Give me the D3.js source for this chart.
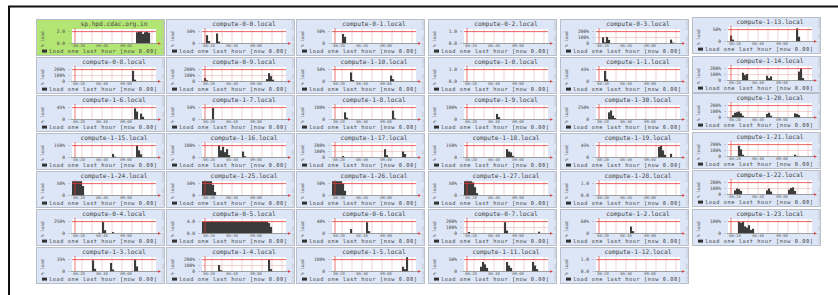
<!DOCTYPE html>
<html>
<head>
<meta charset="utf-8">
<script src="https://cdn.jsdelivr.net/npm/d3@7"></script>
<style>
  html, body { margin: 0; padding: 0; background: #fff; }
  svg { display: block; }
  text { font-family: "DejaVu Sans Mono", monospace; }
</style>
</head>
<body>
<svg id="grid" width="838" height="295"></svg>
<script>
// cluster overview: one tiny load chart per host
const HOSTS = [
  "sp.hpd.cdac.org.in", "compute-0-0.local", "compute-0-1.local", "compute-0-2.local", "compute-0-3.local", "compute-1-13.local",
  "compute-0-8.local", "compute-0-9.local", "compute-1-10.local", "compute-1-0.local", "compute-1-1.local", "compute-1-14.local",
  "compute-1-6.local", "compute-1-7.local", "compute-1-8.local", "compute-1-9.local", "compute-1-30.local", "compute-1-20.local",
  "compute-1-15.local", "compute-1-16.local", "compute-1-17.local", "compute-1-18.local", "compute-1-19.local", "compute-1-21.local",
  "compute-1-24.local", "compute-1-25.local", "compute-1-26.local", "compute-1-27.local", "compute-1-28.local", "compute-1-22.local",
  "compute-0-4.local", "compute-0-5.local", "compute-0-6.local", "compute-0-7.local", "compute-1-2.local", "compute-1-23.local",
  "compute-1-3.local", "compute-1-4.local", "compute-1-5.local", "compute-1-11.local", "compute-1-12.local",
];

const Y_TICKS = [
  [0, 2], [0, 50], [0, 50], [0, 1], [0, 100, 200], [0, 50],
  [0, 100, 200], [0, 100, 200], [0, 50], [0, 1], [0, 45], [0, 100, 200],
  [0, 45], [0, 50], [0, 100], [0, 100], [0, 250], [0, 100, 200],
  [0, 150], [0, 100], [0, 100, 200], [0, 150], [0, 45], [0, 100, 200],
  [0, 50], [0, 50], [0, 50], [0, 50], [0, 1], [0, 100, 200],
  [0, 250], [0, 4], [0, 40], [0, 100, 200], [0, 60], [0, 100],
  [0, 35], [0, 100, 200], [0, 100], [0, 50], [0, 1],
];

const Y_UNITS = [
  "", "%", "%", "", "%", "%",
  "%", "%", "%", "", "%", "%",
  "%", "%", "%", "%", "%", "%",
  "%", "%", "%", "%", "%", "%",
  "%", "%", "%", "%", "", "%",
  "%", "", "%", "%", "%", "%",
  "%", "%", "%", "%", "",
];

const X_LABELS = ["08:20", "08:40", "09:00"];
const X_LABEL_AT = [3.5, 15, 27];
const LEGEND = "load one last hour [now 0.00]";

// one sample every ~1.5 min over the last hour
const LOADS = [
  [0,0,0,0,0,0,0,0,0,0, 0,0,0,0,0,0,0,0,0,0, 0,0,0,0,0,0,0,0,0,0, 0,0,1.9,2,2,1.6,1.9,2,1.8,0, 0,0],
  [0,0,35,10,0,0,0,42,8,0, 0,0,0,0,0,0,0,0,0,0, 0,0,0,0,0,0,0,0,0,0, 0,0,0,0,0,0,0,0,0,0, 0,0],
  [0,0,0,0,0,40,28,0,0,0, 0,0,0,0,0,0,0,0,0,0, 0,0,0,0,0,0,0,0,0,0, 0,0,0,0,0,0,0,0,0,0, 0,0],
  [0,0,0,0,0,0,0,0,0,0, 0,0,0,0,0,0,0,0,0,0, 0,0,0,0,0,0,0,0,0,0, 0,0,0,0,0,0,0,0,0,0, 0,0],
  [0,0,0,105,20,110,60,0,0,0, 0,0,0,0,0,0,0,0,0,0, 0,0,0,0,0,0,0,0,0,0, 0,0,0,0,0,0,0,65,15,0, 0,0],
  [0,25,8,0,0,0,0,0,0,0, 0,0,0,0,0,0,0,0,0,0, 0,0,0,0,0,0,0,0,0,0, 0,0,0,0,55,20,0,0,0,0, 0,0],

  [0,0,0,0,0,0,0,0,0,0, 0,0,0,0,0,0,0,0,0,0, 0,0,0,0,0,0,0,0,0,0, 180,30,0,0,0,0,0,0,0,0, 0,0],
  [0,60,20,0,0,0,0,0,0,0, 0,0,0,0,0,0,0,0,0,0, 0,0,0,0,0,0,0,0,0,0, 0,0,40,140,90,30,0,0,0,0, 0,0],
  [0,0,0,0,0,0,0,0,0,38, 6,0,0,0,0,0,0,0,0,0, 0,0,0,0,0,0,0,0,0,25, 10,0,0,0,0,0,0,0,0,0, 0,0],
  [0,0,0,0,0,0,0,0,0,0, 0,0,0,0,0,0,0,0,0,0, 0,0,0,0,0,0,0,0,0,0, 0,0,0,0,0,0,0,0,0,0, 0,0],
  [0,0,0,0,40,8,0,0,0,0, 0,0,0,0,0,0,0,0,0,0, 0,0,0,0,0,0,0,0,0,0, 0,0,0,0,0,0,0,0,0,0, 0,0],
  [0,0,0,0,0,0,0,130,90,110, 0,0,0,0,0,0,0,0,0,80, 40,70,0,0,0,0,0,0,0,0, 0,0,0,0,0,150,200,40,0,0, 0,0],

  [0,0,0,0,0,0,0,0,0,0, 0,0,0,0,0,0,0,0,0,0, 0,0,0,0,0,0,0,0,0,0, 0,42,30,0,22,10,0,0,0,0, 0,0],
  [0,0,0,0,0,48,0,0,0,0, 0,0,0,0,0,0,0,0,0,0, 0,0,0,0,0,0,0,0,0,0, 0,0,0,0,0,0,0,0,0,0, 0,0],
  [0,0,0,0,0,0,60,15,0,0, 0,0,0,0,0,0,0,0,0,0, 0,0,0,0,0,0,0,0,0,0, 75,10,0,0,0,0,0,0,0,0, 0,0],
  [0,0,0,0,0,0,0,0,0,0, 0,0,0,0,0,0,47,20,0,0, 0,0,0,0,0,0,0,0,0,0, 0,0,0,0,0,0,0,0,0,0, 0,0],
  [0,0,0,0,0,0,150,190,80,30, 0,0,0,0,0,0,0,0,0,0, 0,0,0,0,12,0,0,0,0,0, 0,0,0,0,0,0,0,0,0,0, 0,0],
  [0,0,40,80,90,100,70,30,0,0, 0,0,0,0,0,0,0,0,0,60, 80,30,0,0,0,0,0,0,0,0, 0,0,0,70,60,40,0,0,0,0, 0,0],

  [0,0,0,0,0,0,0,0,0,0, 0,0,0,0,0,0,0,0,0,0, 45,10,0,0,0,0,0,0,0,0, 0,0,150,90,40,0,0,0,0,0, 0,0],
  [0,0,0,0,0,0,0,0,100,60, 90,45,70,20,0,0,0,0,0,0, 50,10,0,0,0,0,0,0,0,0, 0,0,0,0,0,0,0,0,0,0, 0,0],
  [0,0,0,0,0,25,0,0,0,0, 0,0,0,0,0,0,0,0,0,0, 0,0,0,0,0,0,140,40,0,0, 0,0,0,0,0,100,60,0,0,0, 0,0],
  [0,0,0,0,0,0,0,0,0,0, 0,0,0,0,0,0,0,0,0,0, 0,105,75,65,20,0,0,0,0,0, 0,0,0,0,0,0,0,0,0,0, 0,0],
  [0,0,0,0,0,0,0,0,0,0, 0,0,0,0,0,0,0,0,0,0, 0,0,0,0,0,0,0,0,0,0, 0,40,45,27,10,0,0,14,0,0, 0,0],
  [0,0,0,0,0,180,120,30,0,0, 0,0,0,0,0,0,0,0,0,0, 0,0,0,0,0,0,0,0,0,0, 0,0,0,30,10,0,0,0,0,0, 0,0],

  [60,60,60,60,60,40,0,0,0,0, 0,0,0,0,0,0,0,0,0,0, 0,0,0,0,0,0,0,0,0,0, 0,0,0,0,0,0,0,0,0,0, 0,0],
  [60,60,60,60,60,45,15,0,0,0, 0,0,0,0,0,0,0,0,0,0, 0,0,0,0,0,0,0,0,0,0, 0,0,0,0,0,0,0,0,0,0, 0,0],
  [60,60,60,60,60,50,20,0,0,0, 0,0,0,0,0,0,0,0,0,0, 0,0,0,0,0,0,0,0,0,0, 0,0,0,0,0,0,0,0,0,0, 0,0],
  [60,60,60,60,55,35,10,0,0,0, 0,0,0,0,0,0,0,0,0,0, 0,0,0,0,0,0,0,0,0,0, 0,0,0,0,0,0,0,0,0,0, 0,0],
  [0,0,0,0,0,0,0,0,0,0, 0,0,0,0,0,0,0,0,0,0, 0,0,0,0,0,0,0,0,0,0, 0,0,0,0,0,0,0,0,0,0, 0,0],
  [0,0,0,70,100,90,60,0,0,0, 0,0,0,0,0,0,0,0,0,70, 100,50,0,0,0,0,0,0,0,0, 80,110,120,60,0,0,0,0,0,0, 0,0],

  [0,0,0,0,0,0,0,0,0,0, 0,0,0,15,0,240,70,0,0,0, 30,0,0,0,0,0,0,0,0,0, 0,0,0,0,0,0,0,0,0,0, 0,0],
  [4,4,4,4,4,4,4,4,4,4, 4,4,4,4,4,4,4,4,4,4, 4,4,4,4,4,4,4,4,4,4, 4,4,4,3.5,2.2,0,0,0,0,0, 0,0],
  [0,0,0,0,0,0,0,0,0,15, 0,0,0,0,0,0,0,38,8,0, 0,0,0,0,0,0,0,0,0,0, 0,0,0,0,0,0,0,0,0,0, 0,0],
  [0,0,25,0,0,0,0,0,0,0, 0,0,0,0,0,0,0,0,0,0, 190,50,0,0,0,0,0,0,0,0, 0,0,0,0,0,0,0,30,0,0, 0,0],
  [0,0,0,0,0,0,0,0,0,0, 0,0,0,0,0,0,0,35,12,0, 0,0,0,0,0,0,0,0,0,0, 0,0,0,0,0,0,0,0,0,0, 0,0],
  [0,0,0,0,0,100,90,100,60,50, 70,30,40,0,0,0,0,0,0,0, 0,0,0,0,0,0,0,0,0,0, 0,0,0,0,0,0,0,0,0,0, 0,0],

  [0,0,0,0,0,0,0,0,0,0, 33,8,0,0,0,0,0,0,0,25, 6,0,0,0,0,0,0,0,0,0, 0,35,15,0,0,0,0,0,0,0, 0,0],
  [0,0,0,0,0,0,0,0,110,20, 0,0,0,0,0,0,0,0,0,0, 0,0,0,0,0,0,0,0,0,0, 0,0,0,200,40,0,0,0,0,0, 0,0],
  [0,0,0,0,0,0,0,0,0,0, 0,0,0,0,0,0,0,0,0,0, 0,0,0,0,0,0,0,0,0,0, 0,0,0,0,0,40,20,120,0,0, 0,0],
  [0,0,0,0,0,0,0,0,20,40, 30,15,0,0,0,0,0,0,0,0, 0,40,25,15,0,0,0,0,0,0, 0,0,0,0,40,25,10,0,0,0, 0,0],
  [0,0,0,0,0,0,0,0,0,0, 0,0,0,0,0,0,0,0,0,0, 0,0,0,0,0,0,0,0,0,0, 0,0,0,0,0,0,0,0,0,0, 0,0],
];

const COL_X = [36, 166, 296, 428, 560, 692];
const ROW_Y = [19, 57, 95, 133, 171, 209, 247];
const LAST_COL_Y = [17, 56, 93, 132, 170, 209];
const PANEL_W = 128;
const PANEL_H = 36;
const PLOT = { left: 36, right: 120, top: 10, bottom: 24.5 };

const svg = d3.select("#grid");

drawFrame();
HOSTS.forEach((host, i) => drawPanel(host, i));

function drawFrame() {
  svg.append("line").attr("x1", 8).attr("x2", 838).attr("y1", 6.5).attr("y2", 6.5)
    .attr("stroke", "#111").attr("stroke-width", 2);
  svg.append("line").attr("x1", 9).attr("x2", 9).attr("y1", 6).attr("y2", 295)
    .attr("stroke", "#111").attr("stroke-width", 2);
}

function fmtTick(v, unit) {
  if (unit === "%") return v === 0 ? "0" : `${v}%`;
  return v.toFixed(1);
}

function drawPanel(host, i) {
  const row = Math.floor(i / 6);
  const col = i % 6;
  const px = COL_X[col];
  const py = col === 5 ? LAST_COL_Y[row] : ROW_Y[row];
  const ticks = Y_TICKS[i];
  const topTick = ticks[ticks.length - 1];
  const data = LOADS[i];

  const x = d3.scaleLinear().domain([0, data.length]).range([PLOT.left, PLOT.right]);
  const y = d3.scaleLinear().domain([0, topTick * 1.22]).range([PLOT.bottom, PLOT.top]).clamp(true);

  const g = svg.append("g").attr("transform", `translate(${px},${py})`);

  g.append("rect")
    .attr("x", 0.5).attr("y", 0.5)
    .attr("width", PANEL_W).attr("height", PANEL_H)
    .attr("fill", i === 0 ? "#b3e574" : "#dce6f6")
    .attr("stroke", "#b9bec8");

  g.append("rect")
    .attr("x", PLOT.left).attr("y", PLOT.top)
    .attr("width", PLOT.right - PLOT.left).attr("height", PLOT.bottom - PLOT.top)
    .attr("fill", "#fff");

  // minor time grid
  g.selectAll("line.vgrid")
    .data(d3.range(5, data.length, 5))
    .join("line")
    .attr("class", "vgrid")
    .attr("x1", (d) => x(d)).attr("x2", (d) => x(d))
    .attr("y1", PLOT.top).attr("y2", PLOT.bottom)
    .attr("stroke", "#e9b9b9").attr("stroke-width", 0.6);

  g.selectAll("line.hgrid")
    .data(ticks.filter((t) => t > 0 && t < topTick))
    .join("line")
    .attr("class", "hgrid")
    .attr("x1", PLOT.left).attr("x2", PLOT.right)
    .attr("y1", (d) => y(d)).attr("y2", (d) => y(d))
    .attr("stroke", "#eeb0b0").attr("stroke-width", 0.6);

  // load samples
  const step = x(1) - x(0);
  g.selectAll("rect.bar")
    .data(data.map((v, j) => ({ v, j })).filter((d) => d.v > 0))
    .join("rect")
    .attr("class", "bar")
    .attr("x", (d) => x(d.j))
    .attr("width", step + 0.1)
    .attr("y", (d) => y(d.v))
    .attr("height", (d) => y(0) - y(d.v))
    .attr("fill", "#3b3b3b");

  // max line and "now" marker in red
  g.append("line")
    .attr("x1", PLOT.left).attr("x2", PLOT.right)
    .attr("y1", y(topTick)).attr("y2", y(topTick))
    .attr("stroke", "#e23b3b").attr("stroke-width", 0.8);
  g.append("line")
    .attr("x1", x(1.5)).attr("x2", x(1.5))
    .attr("y1", PLOT.top - 1).attr("y2", PLOT.bottom)
    .attr("stroke", "#e23b3b").attr("stroke-width", 0.7);

  g.append("line")
    .attr("x1", PLOT.left - 1).attr("x2", PLOT.right + 3)
    .attr("y1", y(0)).attr("y2", y(0))
    .attr("stroke", "#8a8a8a").attr("stroke-width", 0.8);
  g.append("path")
    .attr("d", `M${PLOT.right + 2},${y(0) - 1.2}L${PLOT.right + 5},${y(0)}L${PLOT.right + 2},${y(0) + 1.2}Z`)
    .attr("fill", "#e23b3b");

  g.selectAll("text.ytick")
    .data(ticks)
    .join("text")
    .attr("class", "ytick")
    .attr("x", PLOT.left - 1.5)
    .attr("y", (d) => y(d) + 1.6)
    .attr("text-anchor", "end")
    .attr("font-size", 4.6)
    .attr("fill", "#444")
    .text((d) => `${fmtTick(d, Y_UNITS[i])} -`);

  g.selectAll("text.xtick")
    .data(X_LABELS)
    .join("text")
    .attr("class", "xtick")
    .attr("x", (_d, k) => x(X_LABEL_AT[k]))
    .attr("y", PLOT.bottom + 3.6)
    .attr("text-anchor", "middle")
    .attr("font-size", 3.8)
    .attr("fill", "#555")
    .text((d) => d);

  g.append("text")
    .attr("x", (PLOT.left + PLOT.right) / 2)
    .attr("y", 7)
    .attr("text-anchor", "middle")
    .attr("font-size", 6.2)
    .attr("fill", "#444")
    .text(host);

  g.append("text")
    .attr("transform", `translate(8,${(PLOT.top + PLOT.bottom) / 2 + 3}) rotate(-90)`)
    .attr("text-anchor", "middle")
    .attr("font-size", 4.3)
    .attr("fill", "#555")
    .text("% load");

  g.append("text")
    .attr("transform", `translate(${PANEL_W - 2.5},${PANEL_H / 2}) rotate(90)`)
    .attr("text-anchor", "middle")
    .attr("font-size", 2.5)
    .attr("fill", "#b4b8c0")
    .text("RRDTOOL / TOBI OETIKER");

  g.append("rect")
    .attr("x", 6).attr("y", 30.6)
    .attr("width", 5).attr("height", 3)
    .attr("fill", "#333");
  g.append("text")
    .attr("x", 13)
    .attr("y", 33.8)
    .attr("font-size", 5.3)
    .attr("letter-spacing", 0.55)
    .attr("fill", "#444")
    .text(LEGEND);
}
</script>
</body>
</html>
